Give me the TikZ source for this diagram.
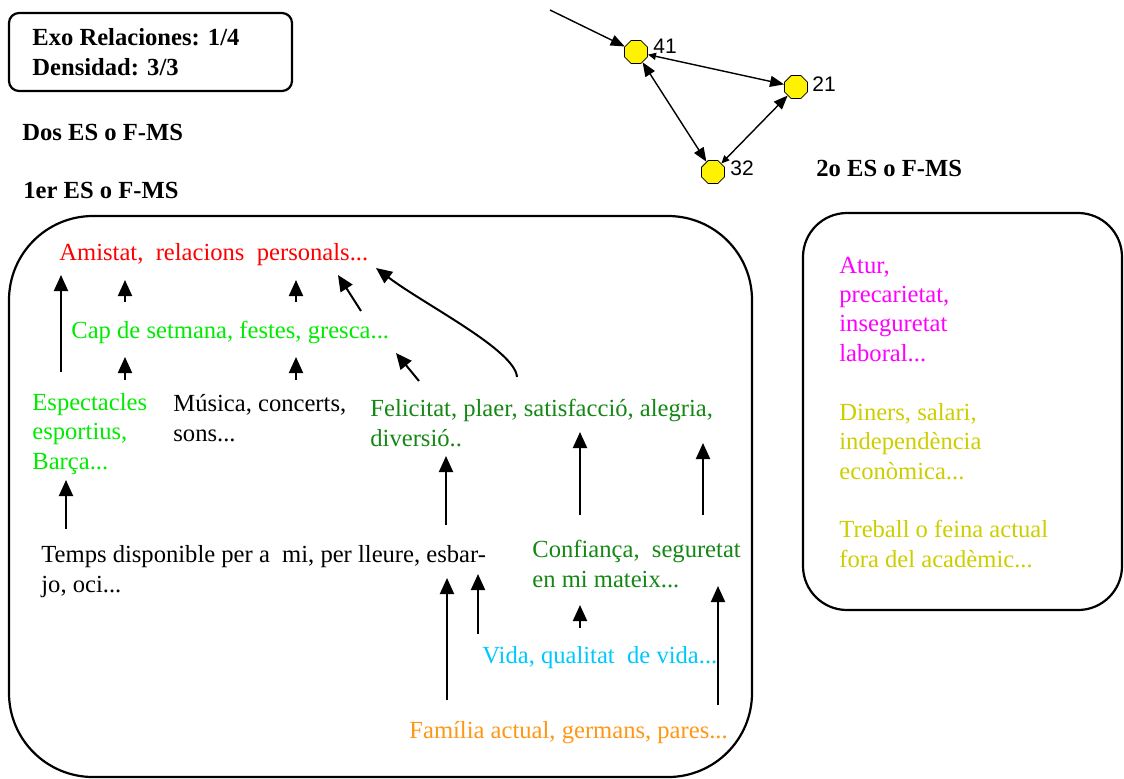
\documentclass[tikz,border=0pt]{standalone}
\usepackage{fontspec}
\setmainfont{Liberation Serif}
\newfontfamily\netfont{Liberation Sans}
\usetikzlibrary{arrows.meta,shapes.geometric}
\definecolor{amired}{RGB}{255,0,0}
\definecolor{festgreen}{RGB}{0,235,0}
\definecolor{felicgreen}{RGB}{20,135,20}
\definecolor{vidablue}{RGB}{0,200,255}
\definecolor{famorange}{RGB}{255,150,20}
\definecolor{aturpink}{RGB}{255,0,255}
\definecolor{dinersyellow}{RGB}{205,205,0}

\begin{document}
\begin{tikzpicture}[x=0.5pt, y=-0.5pt,
    txt/.style={anchor=base west, inner sep=0pt, align=left, font=\fontsize{12.3}{14.65}\selectfont},
    head/.style={txt, font=\fontsize{12.3}{14.65}\selectfont\bfseries},
    arr/.style={-{Triangle[length=8pt,width=7pt]}, line width=1pt},
    box/.style={draw, line width=1.1pt},
    vert/.style={regular polygon, regular polygon sides=8, draw, fill=yellow, minimum size=12.5pt, inner sep=0pt},
    num/.style={anchor=base west, inner sep=0pt, font=\netfont\fontsize{10.5}{12}\selectfont},
    netline/.style={line width=0.7pt}]
    \useasboundingbox (0,0) rectangle (1124,778);

    % Header box and titles (multi-line texts sit on their last line)
    \draw[box, rounded corners=5pt] (9,13) rectangle (292,91);
    \node[head] (exo) at (32,75) {Exo Relaciones: 1/4\\Densidad: 3/3};
    \node[head] (dos) at (22,140) {Dos ES o F-MS};
    \node[head] (primer) at (23,198) {1er ES o F-MS};
    \node[head] (segon) at (816,176) {2o ES o F-MS};

    % Network
    \node[vert] (n41) at (636,52) {};
    \node[vert] (n21) at (796,87) {};
    \node[vert] (n32) at (713,172) {};
    \node[num] (l41) at (653,53) {41};
    \node[num] (l21) at (812,91) {21};
    \node[num] (l32) at (730,175) {32};
    \coordinate (src) at (550,10);
    \draw[netline, -{Triangle[length=7pt,width=5.5pt]}] (src) -- (n41);
    \draw[netline, {Triangle[length=4pt,width=3.5pt]}-{Triangle[length=7pt,width=5.5pt]}] (n41) -- (n21);
    \draw[netline, {Triangle[length=7pt,width=5.5pt]}-{Triangle[length=7pt,width=5.5pt]}] (n41) -- (n32);
    \draw[netline, {Triangle[length=4pt,width=3.5pt]}-{Triangle[length=7pt,width=5.5pt]}] (n32) -- (n21);

    % First ES box
    \draw[box, rounded corners=42pt] (9,216) rectangle (752,777);
    \node[txt, text=amired] (amistat) at (59,260) {Amistat, \ relacions \ personals...};
    \node[txt, text=festgreen] (cap) at (71,338) {Cap de setmana, festes, gresca...};
    \node[txt, text=festgreen] (espect) at (32,469) {Espectacles\\esportius,\\Barça...};
    \node[txt] (musica) at (173,441) {Música, concerts,\\sons...};
    \node[txt, text=felicgreen] (felic) at (370,446) {Felicitat, plaer, satisfacció, alegria,\\diversió..};
    \node[txt] (temps) at (41,592) {Temps disponible per a \ mi, per lleure, esbar-\\jo, oci...};
    \node[txt, text=felicgreen] (confi) at (532,587) {Confiança, \ seguretat\\en mi mateix...};
    \node[txt, text=vidablue] (vida) at (482,663) {Vida, qualitat \ de vida...};
    \node[txt, text=famorange] (familia) at (409,738) {Família actual, germans, pares...};

    % Arrow ends
    \coordinate (espUp) at (61,372);   \coordinate (amiA) at (61,275);
    \coordinate (capUpA) at (125,302); \coordinate (amiB) at (125,280);
    \coordinate (capUpB) at (296,302); \coordinate (amiC) at (296,280);
    \coordinate (capUpC) at (361,311); \coordinate (amiD) at (338,275);
    \coordinate (felUp) at (517,377);  \coordinate (amiE) at (376,268);
    \coordinate (espUpB) at (125,380); \coordinate (capA) at (125,357);
    \coordinate (musUp) at (296,380);  \coordinate (capB) at (296,357);
    \coordinate (felUpB) at (419,381); \coordinate (capC) at (396,353);
    \coordinate (temUpA) at (66,529);  \coordinate (espDn) at (66,480);
    \coordinate (temUpB) at (446,525); \coordinate (felA) at (446,456);
    \coordinate (conUpA) at (580,515); \coordinate (felB) at (580,432);
    \coordinate (conUpB) at (703,515); \coordinate (felC) at (703,443);
    \coordinate (famUpA) at (447,700); \coordinate (temA) at (447,578);
    \coordinate (vidUpA) at (478,634); \coordinate (temB) at (478,574);
    \coordinate (vidUpB) at (580,628); \coordinate (conA) at (580,605);
    \coordinate (famUpB) at (718,705); \coordinate (conB) at (718,586);

    % Arrows
    \draw[arr] (espUp) -- (amiA);
    \draw[arr] (capUpA) -- (amiB);
    \draw[arr] (capUpB) -- (amiC);
    \draw[arr] (capUpC) -- (amiD);
    \draw[arr] (felUp) .. controls (515,350) and (425,305) .. (amiE);
    \draw[arr] (espUpB) -- (capA);
    \draw[arr] (musUp) -- (capB);
    \draw[arr] (felUpB) -- (capC);
    \draw[arr] (temUpA) -- (espDn);
    \draw[arr] (temUpB) -- (felA);
    \draw[arr] (conUpA) -- (felB);
    \draw[arr] (conUpB) -- (felC);
    \draw[arr] (famUpA) -- (temA);
    \draw[arr] (vidUpA) -- (temB);
    \draw[arr] (vidUpB) -- (conA);
    \draw[arr] (famUpB) -- (conB);

    % Second ES box
    \draw[box, rounded corners=22pt] (803,213) rectangle (1122,610);
    \node[txt, text=aturpink] (atur) at (839,361) {Atur,\\precarietat,\\inseguretat\\laboral...};
    \node[txt, text=dinersyellow] (diners) at (839,479) {Diners, salari,\\independència\\econòmica...};
    \node[txt, text=dinersyellow] (treball) at (839,567) {Treball o feina actual\\fora del acadèmic...};
\end{tikzpicture}
\end{document}
